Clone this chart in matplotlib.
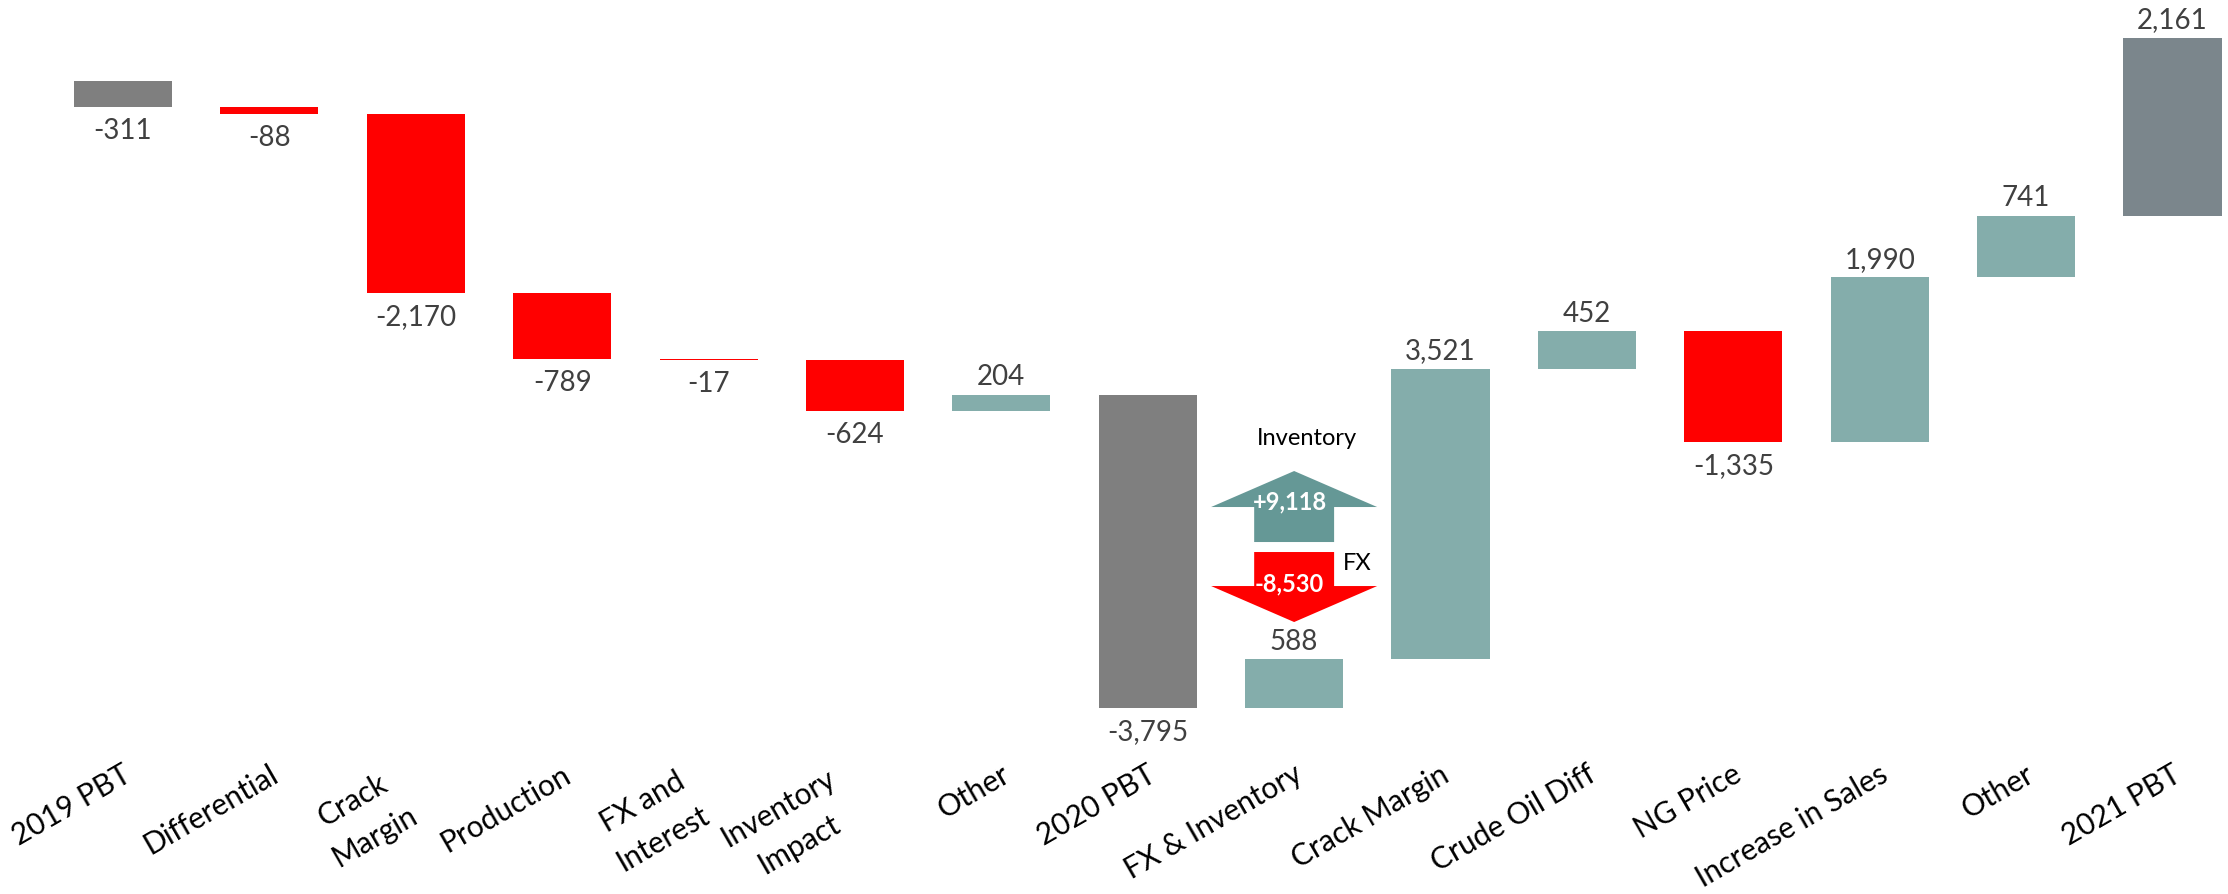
import numpy as np
import matplotlib.pyplot as plt
from matplotlib.patches import FancyArrow

plt.rcParams['font.family'] = ['Lato', 'DejaVu Sans']

# data
categories = ['2019 PBT', 'Differential', 'Crack\nMargin', 'Production', 'FX and\nInterest',
              'Inventory\nImpact', 'Other', '2020 PBT', 'FX & Inventory', 'Crack Margin',
              'Crude Oil Diff', 'NG Price', 'Increase in Sales', 'Other', '2021 PBT']
values = [-311, -88, -2170, -789, -17, -624, 204, -3795, 588, 3521, 452, -1335, 1990, 741, 2161]
total_idx = [0, 7, 14]
inventory_gain = 9118
fx_loss = -8530

# colours
c_total = '#7F7F7F'
c_total_last = '#7B868C'
c_pos = '#84ADAB'
c_neg = '#FF0000'
c_arrow_up = '#659896'
c_label = '#404040'

values = np.array(values)
ends = np.cumsum(values)
starts = ends - values
x = np.arange(len(values))

colors = []
for i, v in enumerate(values):
    if i in total_idx:
        colors.append(c_total_last if i == total_idx[-1] else c_total)
    else:
        colors.append(c_pos if v > 0 else c_neg)

fig = plt.figure(figsize=(22.28, 8.94), dpi=100)
ax = fig.add_axes([0, 0, 1, 1])
ax.axis('off')

ax.bar(x, values, bottom=starts, width=0.67, color=colors, linewidth=0)

# data labels
for i, v in enumerate(values):
    if v > 0:
        ax.annotate(f'{v:,}', (i, starts[i] + v), xytext=(0, 7), textcoords='offset points',
                    ha='center', va='baseline', fontsize=20, color=c_label)
    else:
        ax.annotate(f'{v:,}', (i, starts[i] + v), xytext=(0, -23), textcoords='offset points',
                    ha='center', va='baseline', fontsize=20, color=c_label)

# category labels
for i, name in enumerate(categories):
    if '\n' in name:
        ax.text(i - 0.08, 0.111, name, transform=ax.get_xaxis_transform(), rotation=30,
                rotation_mode='anchor', ha='right', va='center', multialignment='center',
                linespacing=1.6, fontsize=21.5, color='black')
    else:
        ax.text(i + 0.04, 0.136, name, transform=ax.get_xaxis_transform(), rotation=30,
                rotation_mode='anchor', ha='right', va='center', fontsize=21.5, color='black')

# FX & Inventory breakdown arrows
k = categories.index('FX & Inventory')
up = FancyArrow(k, -5580, 0, 860, width=0.546, head_width=1.134, head_length=436,
                length_includes_head=True, color=c_arrow_up, linewidth=0)
down = FancyArrow(k, -5701, 0, -848, width=0.546, head_width=1.134, head_length=436,
                  length_includes_head=True, color=c_neg, linewidth=0)
ax.add_patch(up)
ax.add_patch(down)
ax.text(k - 0.03, -5090, f'{inventory_gain:+,}', ha='center', va='center', fontsize=17,
        fontweight='bold', color='white')
ax.text(k - 0.03, -6090, f'{fx_loss:,}', ha='center', va='center', fontsize=17,
        fontweight='bold', color='white')
ax.text(k + 0.09, -4320, 'Inventory', ha='center', va='center', fontsize=17, color='black')
ax.text(k + 0.43, -5834, 'FX', ha='center', va='center', fontsize=17, color='black')

ax.set_xlim(-0.840, 14.379)
ax.set_ylim(-9843, 985)

plt.savefig('out.png', dpi=100)
